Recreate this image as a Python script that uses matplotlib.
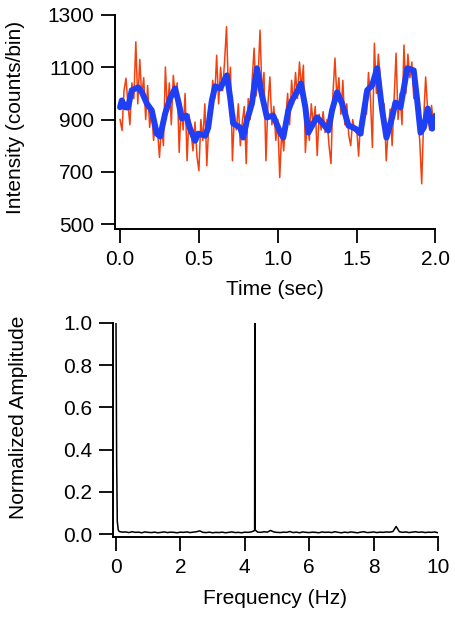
import numpy as np
import matplotlib

matplotlib.use('Agg')
import matplotlib.pyplot as plt
from matplotlib.ticker import MultipleLocator, FormatStrFormatter

plt.rcParams['font.family'] = ['Liberation Sans', 'DejaVu Sans']

# raw trace, one bin every 12.5 ms (counts/bin)
raw_dt = 0.0125
raw_counts = [
    900, 858, 1010, 1058, 960, 880, 1040, 980,
    1197, 960, 1130, 990, 1060, 900, 1030, 870,
    940, 820, 900, 860, 755, 880, 800, 1101,
    930, 1040, 880, 1069, 990, 1040, 774, 960,
    860, 1000, 742, 920, 850, 780, 890, 760,
    704, 900, 820, 960, 723, 880, 940, 1050,
    980, 1146, 960, 1100, 1010, 1120, 1255, 1000,
    1100, 742, 920, 860, 960, 800, 890, 950,
    731, 980, 900, 1050, 1173, 990, 1060, 1242,
    1000, 1080, 742, 960, 1063, 880, 950, 820,
    900, 678, 860, 780, 900, 1000, 880, 1050,
    960, 1080, 980, 1120, 1020, 1108, 774, 900,
    820, 960, 880, 950, 762, 920, 860, 930,
    850, 900, 800, 731, 1000, 1135, 980, 1060,
    920, 1050, 880, 960, 840, 800, 900, 860,
    870, 760, 900, 840, 1000, 920, 1080, 980,
    793, 1192, 1000, 1150, 1060, 900, 960, 742,
    860, 940, 800, 980, 1154, 900, 1000, 880,
    1185, 1000, 1150, 1060, 1120, 980, 1080, 900,
    820, 654, 900, 1063, 940, 860, 954, 880,
    920,
]

# smoothed trace
smooth_t = [0.000, 0.011, 0.032, 0.051, 0.074, 0.114, 0.138, 0.170, 0.201, 0.233,
            0.254, 0.286, 0.317, 0.349, 0.368, 0.392, 0.419, 0.444, 0.476, 0.495,
            0.540, 0.559, 0.582, 0.603, 0.635, 0.677, 0.698, 0.717, 0.762, 0.781,
            0.804, 0.836, 0.868, 0.900, 0.931, 0.971, 0.984, 1.016, 1.035, 1.067,
            1.090, 1.121, 1.147, 1.175, 1.194, 1.225, 1.249, 1.281, 1.321, 1.344,
            1.376, 1.408, 1.448, 1.492, 1.524, 1.567, 1.598, 1.630, 1.662, 1.689,
            1.725, 1.746, 1.778, 1.821, 1.862, 1.884, 1.905, 1.926, 1.951, 1.979,
            2.000]
smooth_counts = [947, 973, 947, 946, 1012, 1023, 1005, 961, 935, 846,
                 835, 923, 981, 1019, 973, 904, 915, 865, 819, 846,
                 838, 869, 973, 1027, 1019, 1069, 985, 885, 869, 831,
                 896, 961, 1096, 992, 908, 915, 896, 850, 831, 935,
                 973, 1004, 1038, 946, 850, 885, 908, 888, 858, 935,
                 1004, 961, 877, 865, 846, 1012, 1031, 1096, 935, 831,
                 908, 965, 946, 1096, 1088, 973, 850, 869, 942, 865,
                 915]
intensity_ticks = [500, 700, 900, 1100, 1300]

# spectrum: noise floor every 0.1 Hz from 0.1 to 10 Hz
floor_step = 0.1
floor_amp = [
    0.012, 0.009, 0.010, 0.007, 0.011, 0.008, 0.009, 0.006, 0.010, 0.008,
    0.007, 0.009, 0.006, 0.008, 0.010, 0.007, 0.009, 0.008, 0.006, 0.009,
    0.008, 0.010, 0.007, 0.009, 0.011, 0.015, 0.008, 0.007, 0.009, 0.006,
    0.008, 0.007, 0.009, 0.006, 0.008, 0.010, 0.007, 0.008, 0.006, 0.009,
    0.008, 0.010, 0.016, 0.009, 0.008, 0.011, 0.009, 0.017, 0.010, 0.008,
    0.007, 0.009, 0.008, 0.012, 0.007, 0.009, 0.006, 0.010, 0.008, 0.007,
    0.009, 0.008, 0.006, 0.010, 0.008, 0.009, 0.007, 0.011, 0.008, 0.006,
    0.009, 0.007, 0.010, 0.008, 0.006, 0.009, 0.011, 0.007, 0.008, 0.010,
    0.007, 0.009, 0.008, 0.010, 0.009, 0.012, 0.036, 0.011, 0.008, 0.010,
    0.007, 0.009, 0.011, 0.008, 0.010, 0.007, 0.009, 0.008, 0.010, 0.006,
]
# peaks (DC and the 4.3 Hz line)
peak_freq = [0.0, 0.02, 0.04, 0.07, 4.305, 4.31, 4.315]
peak_amp = [1.0, 0.35, 0.06, 0.02, 0.02, 1.0, 0.02]

raw_t = np.arange(len(raw_counts)) * raw_dt
floor_freq = (np.arange(len(floor_amp)) + 1) * floor_step
freq = np.concatenate([floor_freq, peak_freq])
amp = np.concatenate([floor_amp, peak_amp])
order = np.argsort(freq)
freq, amp = freq[order], amp[order]

fs = 15
fig = plt.figure(figsize=(4.56, 6.18), dpi=100)
W, H = 456.0, 618.0
ax1 = fig.add_axes([115 / W, 1 - 229 / H, 320.5 / W, 214 / H])
ax2 = fig.add_axes([113 / W, 1 - 537 / H, 325 / W, 214 / H])

for ax in (ax1, ax2):
    ax.spines['top'].set_visible(False)
    ax.spines['right'].set_visible(False)
    ax.spines['left'].set_linewidth(1.4)
    ax.spines['bottom'].set_linewidth(1.4)
    ax.tick_params(direction='out', length=10, width=1.3, labelsize=fs, pad=5)

ax1.plot(raw_t, raw_counts, color='#f2400f', lw=1.1, zorder=2)
ax1.plot(smooth_t, smooth_counts, color='#1f3ff5', lw=4.3, zorder=3,
         solid_joinstyle='round', solid_capstyle='round')
ax1.set_xlim(-0.032, 2.0)
ax1.set_ylim(481, 1300)
ax1.set_yticks(intensity_ticks)
ax1.xaxis.set_major_locator(MultipleLocator(0.5))
ax1.xaxis.set_major_formatter(FormatStrFormatter('%.1f'))
ax1.set_xlabel('Time (sec)', fontsize=fs)
ax1.set_ylabel('Intensity (counts/bin)', fontsize=fs)
ax1.xaxis.set_label_coords(0.5, -0.238)
ax1.yaxis.set_label_coords(-0.281, 0.52)

ax2.plot(freq, amp, color='black', lw=1.1)
ax2.set_xlim(-0.093, 10.0)
ax2.set_ylim(-0.014, 1.0)
ax2.xaxis.set_major_locator(MultipleLocator(2))
ax2.yaxis.set_major_locator(MultipleLocator(0.2))
ax2.yaxis.set_major_formatter(FormatStrFormatter('%.1f'))
ax2.set_xlabel('Frequency (Hz)', fontsize=fs)
ax2.set_ylabel('Normalized Amplitude', fontsize=fs)
ax2.xaxis.set_label_coords(0.5, -0.243)
ax2.yaxis.set_label_coords(-0.262, 0.56)

fig.savefig('out.png', dpi=100)
